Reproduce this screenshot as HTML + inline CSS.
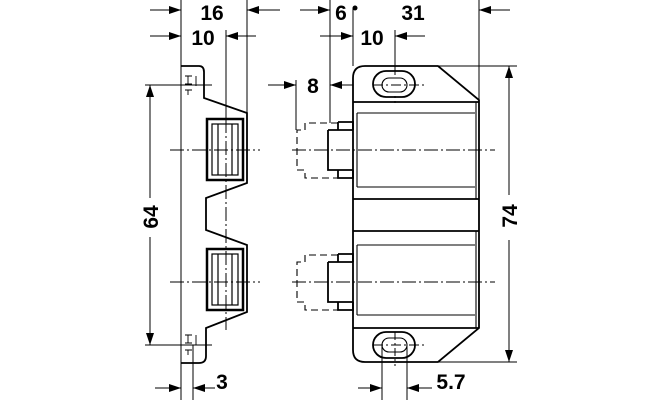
<!DOCTYPE html>
<html><head><style>html,body{margin:0;padding:0;background:#fff}svg{display:block}</style></head>
<body>
<svg width="660" height="400" viewBox="0 0 660 400" xmlns="http://www.w3.org/2000/svg" font-family="Liberation Sans, sans-serif" font-weight="bold">
<defs>
<marker id="a" markerWidth="12" markerHeight="8" refX="12" refY="4" orient="auto" markerUnits="userSpaceOnUse"><path d="M0,0 L12,4 L0,8 z" fill="#000"/></marker>
</defs>
<g fill="none" stroke="#000" stroke-width="1">
<line x1="181" y1="0" x2="181" y2="400"/>
<line x1="247" y1="0" x2="247" y2="113"/>
<line x1="226" y1="30" x2="226" y2="119"/>
<line x1="226" y1="119" x2="226" y2="330" stroke-dasharray="14,3,2,3"/>
<line x1="193" y1="345" x2="193" y2="400"/>
<line x1="145" y1="85" x2="212" y2="85"/>
<line x1="145" y1="345" x2="212" y2="345"/>
<line x1="170" y1="150" x2="260" y2="150" stroke-dasharray="14,3,2,3"/>
<line x1="170" y1="282" x2="260" y2="282" stroke-dasharray="14,3,2,3"/>
<line x1="150" y1="10" x2="181" y2="10" marker-end="url(#a)"/>
<line x1="280" y1="10" x2="247" y2="10" marker-end="url(#a)"/>
<line x1="150" y1="36" x2="181" y2="36" marker-end="url(#a)"/>
<line x1="256" y1="36" x2="226" y2="36" marker-end="url(#a)"/>
<line x1="150" y1="198" x2="150" y2="85" marker-end="url(#a)"/>
<line x1="150" y1="237" x2="150" y2="345" marker-end="url(#a)"/>
<line x1="155" y1="388" x2="181" y2="388" marker-end="url(#a)"/>
<line x1="215" y1="388" x2="193" y2="388" marker-end="url(#a)"/>
</g>
<g fill="none" stroke="#000" stroke-width="1.8">
<path d="M181,66 L199,66 Q204,66 204,72 L204,98 L247,113 L247,183 L206,198 L206,230 L247,245 L247,312 L206,328 L206,356 Q206,363 199,363 L181,363"/>
<rect x="207" y="119" width="36" height="61" stroke-width="2.5"/>
<rect x="207" y="249" width="36" height="61" stroke-width="2.5"/>
</g>
<g fill="none" stroke="#000" stroke-width="1.2">
<rect x="212" y="124" width="26" height="51"/>
<line x1="218" y1="124" x2="218" y2="175"/><line x1="232" y1="124" x2="232" y2="175"/>
<rect x="212" y="254" width="26" height="51"/>
<line x1="218" y1="254" x2="218" y2="305"/><line x1="232" y1="254" x2="232" y2="305"/>
<path d="M188,76 V84 M185,76 H192 M185,84 H192 M196,76 V86 M188,90 V95 M185,90 H192" stroke-width="0.9"/>
<path d="M188,335 V343 M185,335 H192 M185,343 H192 M196,335 V345 M188,350 V355 M185,350 H192" stroke-width="0.9"/>
</g>
<g fill="none" stroke="#000" stroke-width="1">
<line x1="330" y1="0" x2="330" y2="123"/>
<line x1="353" y1="8" x2="353" y2="66"/>
<line x1="479" y1="0" x2="479" y2="100"/>
<line x1="395" y1="30" x2="395" y2="75"/>
<line x1="296" y1="80" x2="296" y2="130"/>
<line x1="382" y1="345" x2="382" y2="400"/>
<line x1="407" y1="345" x2="407" y2="400"/>
<line x1="438" y1="66" x2="517" y2="66"/>
<line x1="438" y1="362" x2="517" y2="362"/>
<line x1="292" y1="150" x2="495" y2="150" stroke-dasharray="14,3,2,3"/>
<line x1="292" y1="282" x2="495" y2="282" stroke-dasharray="14,3,2,3"/>
<line x1="373" y1="85" x2="425" y2="85" stroke-dasharray="10,3,2,3"/>
<line x1="373" y1="345" x2="425" y2="345" stroke-dasharray="10,3,2,3"/>
<line x1="395" y1="96" x2="395" y2="106" stroke-dasharray="2,3"/>
<line x1="395" y1="332" x2="395" y2="366" stroke-dasharray="8,3,2,3"/>
<line x1="300" y1="10" x2="330" y2="10" marker-end="url(#a)"/>
<line x1="510" y1="10" x2="479" y2="10" marker-end="url(#a)"/>
<line x1="320" y1="36" x2="353" y2="36" marker-end="url(#a)"/>
<line x1="425" y1="36" x2="395" y2="36" marker-end="url(#a)"/>
<line x1="268" y1="85" x2="296" y2="85" marker-end="url(#a)"/>
<line x1="353" y1="85" x2="330" y2="85" marker-end="url(#a)"/>
<line x1="509" y1="195" x2="509" y2="66" marker-end="url(#a)"/>
<line x1="509" y1="240" x2="509" y2="362" marker-end="url(#a)"/>
<line x1="358" y1="388" x2="382" y2="388" marker-end="url(#a)"/>
<line x1="432" y1="388" x2="407" y2="388" marker-end="url(#a)"/>
</g>
<circle cx="355" cy="8" r="2.5" fill="#000"/>
<g fill="none" stroke="#000" stroke-width="1.8">
<path d="M365,66 L438,66 L479,100 L479,328 L438,362 L365,362 Q353,362 353,350 L353,78 Q353,66 365,66 Z"/>
<line x1="353" y1="102" x2="479" y2="102"/>
<line x1="353" y1="199" x2="479" y2="199"/>
<line x1="353" y1="231" x2="479" y2="231"/>
<line x1="353" y1="328" x2="479" y2="328"/>
<rect x="373" y="71" width="42" height="26" rx="13"/>
<rect x="373" y="332" width="42" height="26" rx="13"/>
<path d="M328,130 H353 M328,130 V170 H353 M338,122 H353 V130 M338,122 V130 M338,170 V178 H353 V170"/>
<path d="M328,262 H353 M328,262 V302 H353 M338,254 H353 V262 M338,254 V262 M338,302 V310 H353 V302"/>
</g>
<g fill="none" stroke="#000" stroke-width="1.1">
<line x1="357" y1="113" x2="475" y2="113"/>
<line x1="357" y1="187" x2="475" y2="187"/>
<line x1="357" y1="245" x2="475" y2="245"/>
<line x1="357" y1="315" x2="475" y2="315"/>
<line x1="357" y1="113" x2="357" y2="187"/>
<line x1="357" y1="245" x2="357" y2="315"/>
<line x1="476" y1="102" x2="476" y2="199"/>
<line x1="476" y1="231" x2="476" y2="328"/>
<rect x="382" y="78" width="25" height="14" rx="7"/>
<rect x="382" y="338" width="25" height="14" rx="7"/>
<path d="M338,123 H305 V130 H297 V170 H305 V178 H338" stroke-dasharray="7,4"/>
<path d="M338,255 H305 V262 H297 V302 H305 V310 H338" stroke-dasharray="7,4"/>
</g>
<g font-size="21" fill="#000" text-anchor="middle">
<text x="212" y="20">16</text>
<text x="203" y="45">10</text>
<text x="222" y="389">3</text>
<text x="341" y="20">6</text>
<text x="413" y="20">31</text>
<text x="372" y="45">10</text>
<text x="313" y="93">8</text>
<text x="451" y="389">5.7</text>
<text transform="translate(158,217) rotate(-90)">64</text>
<text transform="translate(517,216) rotate(-90)">74</text>
</g>
</svg>
</body></html>
